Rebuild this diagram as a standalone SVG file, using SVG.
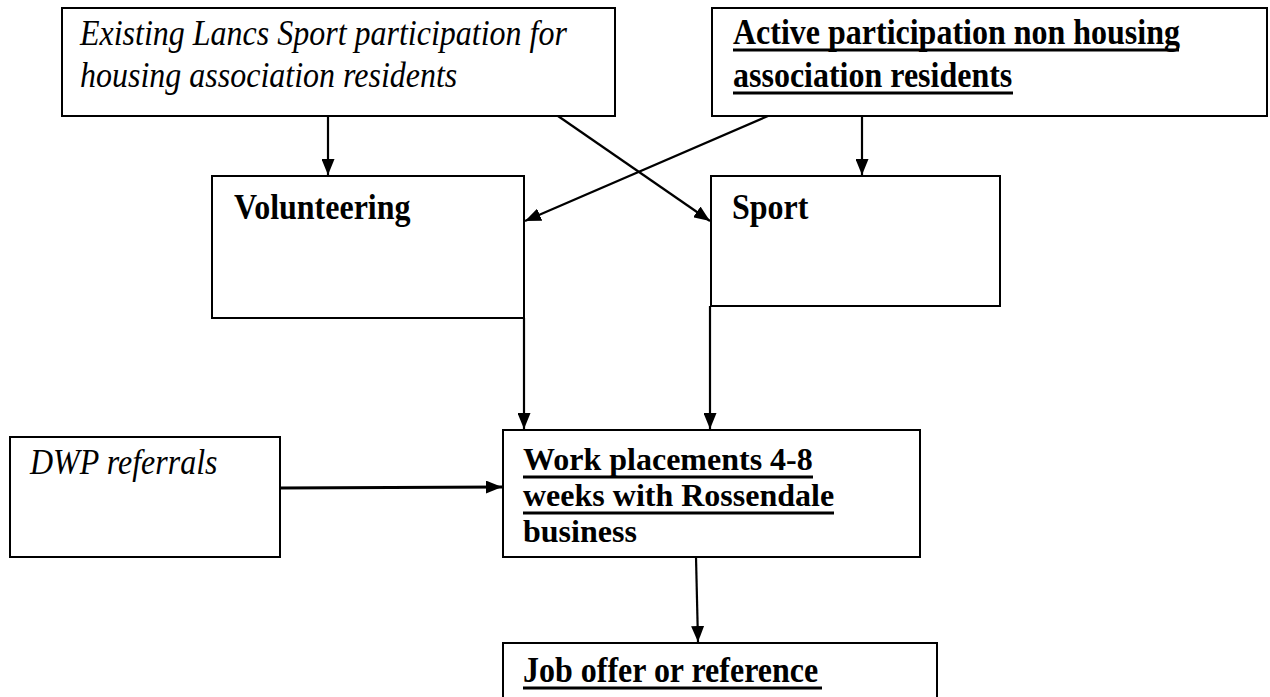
<svg xmlns="http://www.w3.org/2000/svg" width="1270" height="697" viewBox="0 0 1270 697">
<style>
.box{fill:#fff;stroke:#000;stroke-width:2}
.t{font-family:"Liberation Serif","Times New Roman",serif;font-size:32px;fill:#000}
.i{font-style:italic}
.b{font-weight:bold}
.ul{stroke:#000;stroke-width:3}
.c{stroke:#000;stroke-width:2.2;fill:none;marker-end:url(#ah)}
</style>
<defs>
<marker id="ah" viewBox="0 0 16 13" refX="16" refY="6.5" markerWidth="16" markerHeight="13" markerUnits="userSpaceOnUse" orient="auto">
<path d="M0,0 L16,6.5 L0,13 z" fill="#000"/>
</marker>
</defs>
<rect width="1270" height="697" fill="#fff"/>
<g id="n-existing">
<rect class="box" x="62" y="8" width="553" height="108"/>
<text class="t i" transform="translate(80,45) scale(1,1.15)">Existing Lancs Sport participation for</text>
<text class="t i" transform="translate(80,87) scale(1,1.15)">housing association residents</text>
</g>
<g id="n-active">
<rect class="box" x="712" y="8" width="555" height="108"/>
<text class="t b" transform="translate(733,44) scale(1,1.15)">Active participation non housing</text>
<line class="ul" x1="733" y1="50" x2="1179" y2="50"/>
<text class="t b" transform="translate(733,87) scale(1,1.15)">association residents</text>
<line class="ul" x1="733" y1="93" x2="1013" y2="93"/>
</g>
<g id="n-volunteering">
<rect class="box" x="212" y="176" width="312" height="142"/>
<text class="t b" transform="translate(234,219) scale(1,1.15)">Volunteering</text>
</g>
<g id="n-sport">
<rect class="box" x="711" y="176" width="289" height="130"/>
<text class="t b" transform="translate(732,219) scale(1,1.15)">Sport</text>
</g>
<g id="n-dwp">
<rect class="box" x="10" y="437" width="270" height="120"/>
<text class="t i" transform="translate(30,474) scale(1,1.15)">DWP referrals</text>
</g>
<g id="n-work">
<rect class="box" x="503" y="430" width="417" height="127"/>
<text class="t b" x="523" y="470">Work placements 4-8</text>
<line class="ul" x1="523" y1="477" x2="813" y2="477"/>
<text class="t b" x="523" y="506">weeks with Rossendale</text>
<line class="ul" x1="523" y1="513" x2="834" y2="513"/>
<text class="t b" x="523" y="542">business</text>
</g>
<g id="n-job">
<rect class="box" x="503" y="643" width="434" height="60"/>
<text class="t b" transform="translate(523,682) scale(1,1.15)">Job offer or reference</text>
<line class="ul" x1="523" y1="688" x2="822" y2="688"/>
</g>
<g id="connectors">
<line class="c" x1="328" y1="116" x2="328" y2="175"/>
<line class="c" x1="862" y1="116" x2="862" y2="175"/>
<line class="c" x1="558" y1="116" x2="710" y2="221"/>
<line class="c" x1="768" y1="116" x2="525" y2="221"/>
<line class="c" x1="524" y1="318" x2="524" y2="429"/>
<line class="c" x1="710" y1="306" x2="710" y2="429"/>
<line class="c" x1="280" y1="488" x2="502" y2="487" style="stroke-width:3"/>
<line class="c" x1="696" y1="557" x2="698" y2="642"/>
</g>
</svg>
